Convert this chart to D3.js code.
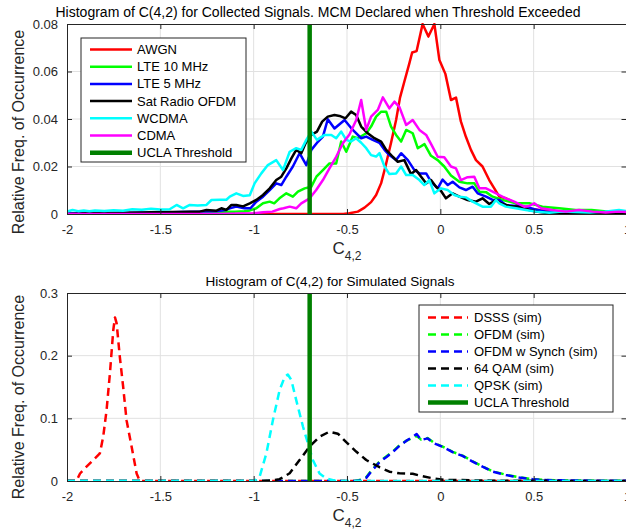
<!DOCTYPE html>
<html>
<head>
<meta charset="utf-8">
<script src="https://cdn.jsdelivr.net/npm/d3@7/dist/d3.min.js"></script>
<style>
  body { margin: 0; background: #fff; }
  svg { display: block; font-family: "Liberation Sans", Arial, Helvetica, sans-serif; }
</style>
</head>
<body>
<svg id="chart" width="626" height="531"></svg>
<script>
// ---- Collected signals: [C(4,2) bin, relative frequency] ----
const awgn = [[-2,0],[-0.52,0],[-0.487,0.0003],[-0.442,0.001],[-0.406,0.0027],[-0.371,0.005],[-0.344,0.008],[-0.317,0.013],[-0.294,0.020],[-0.264,0.030],[-0.237,0.0396],[-0.216,0.049],[-0.193,0.0557],[-0.166,0.0634],[-0.151,0.068],[-0.127,0.0686],[-0.095,0.080],[-0.064,0.0747],[-0.032,0.080],[-0.005,0.0648],[0.027,0.059],[0.057,0.048],[0.084,0.049],[0.11,0.039],[0.137,0.0325],[0.164,0.027],[0.191,0.0227],[0.226,0.020],[0.262,0.0143],[0.316,0.0073],[0.351,0.0066],[0.405,0.0045],[0.458,0.0024],[0.529,0.0017],[0.619,0.001],[0.797,0.0003],[1,0]];

const lte10 = [[-2,0],[-1.5,0.0003],[-1.3,0.0005],[-1.2,0.001],[-1.1,0.001],[-1.05,0.0012],[-1.02,0.0015],[-0.986,0.0024],[-0.95,0.0045],[-0.914,0.0052],[-0.89,0.0045],[-0.862,0.0066],[-0.825,0.0087],[-0.79,0.0073],[-0.763,0.0094],[-0.727,0.0108],[-0.691,0.0115],[-0.664,0.0157],[-0.629,0.0185],[-0.594,0.0213],[-0.558,0.0213],[-0.531,0.0305],[-0.504,0.0262],[-0.469,0.0326],[-0.442,0.0319],[-0.397,0.034],[-0.371,0.0368],[-0.344,0.041],[-0.317,0.0431],[-0.29,0.0431],[-0.264,0.0368],[-0.237,0.0333],[-0.21,0.0305],[-0.183,0.0354],[-0.148,0.034],[-0.121,0.0277],[-0.085,0.0294],[-0.05,0.0245],[-0.014,0.0227],[0.021,0.020],[0.057,0.0162],[0.102,0.0136],[0.146,0.0129],[0.182,0.0129],[0.209,0.0094],[0.245,0.0092],[0.28,0.0073],[0.334,0.0059],[0.405,0.0045],[0.476,0.0045],[0.547,0.0031],[0.636,0.0024],[0.725,0.0017],[0.81,0.0017],[0.904,0.001],[1,0.001]];

const lte5 = [[-2,0.0002],[-1.8,0.0003],[-1.6,0.0005],[-1.5,0.0005],[-1.4,0.0008],[-1.3,0.001],[-1.2,0.0012],[-1.15,0.0017],[-1.128,0.0024],[-1.093,0.0031],[-1.05,0.0024],[-1.017,0.0024],[-0.986,0.0052],[-0.95,0.0073],[-0.914,0.0101],[-0.879,0.0129],[-0.852,0.0122],[-0.825,0.0157],[-0.79,0.020],[-0.754,0.0256],[-0.718,0.0206],[-0.691,0.027],[-0.656,0.0304],[-0.629,0.0326],[-0.603,0.0399],[-0.567,0.036],[-0.513,0.0396],[-0.469,0.0354],[-0.424,0.0319],[-0.397,0.0326],[-0.362,0.0312],[-0.326,0.030],[-0.299,0.027],[-0.273,0.0248],[-0.237,0.0227],[-0.21,0.0256],[-0.174,0.0227],[-0.139,0.0185],[-0.112,0.0171],[-0.076,0.0171],[-0.05,0.0136],[-0.014,0.0108],[0.012,0.0145],[0.04,0.0122],[0.066,0.0136],[0.102,0.0112],[0.137,0.0101],[0.173,0.0115],[0.2,0.0087],[0.245,0.0073],[0.28,0.0059],[0.316,0.0059],[0.351,0.0038],[0.405,0.0034],[0.458,0.0031],[0.503,0.002],[0.565,0.001],[0.67,0.001],[0.8,0.0005],[0.957,0.0003],[1,0.0003]];

const satRadio = [[-2,0],[-1.9,0.0003],[-1.8,0.0004],[-1.7,0.0005],[-1.6,0.0006],[-1.5,0.0008],[-1.4,0.0008],[-1.34,0.001],[-1.289,0.001],[-1.253,0.0017],[-1.199,0.0014],[-1.173,0.0024],[-1.146,0.0017],[-1.119,0.0038],[-1.093,0.0038],[-1.057,0.0032],[-1.021,0.0045],[-0.986,0.0059],[-0.95,0.008],[-0.914,0.0108],[-0.879,0.0143],[-0.852,0.0157],[-0.825,0.0192],[-0.798,0.0234],[-0.772,0.027],[-0.745,0.0256],[-0.722,0.0298],[-0.691,0.0333],[-0.661,0.0347],[-0.633,0.0389],[-0.603,0.041],[-0.567,0.0417],[-0.54,0.0413],[-0.508,0.0403],[-0.478,0.0431],[-0.451,0.0417],[-0.424,0.0368],[-0.389,0.034],[-0.353,0.0319],[-0.317,0.0305],[-0.29,0.027],[-0.255,0.0241],[-0.228,0.022],[-0.193,0.0227],[-0.157,0.0168],[-0.13,0.0185],[-0.103,0.0157],[-0.076,0.0129],[-0.05,0.0143],[-0.023,0.0115],[0.004,0.0097],[0.03,0.0066],[0.066,0.0087],[0.102,0.0073],[0.146,0.0059],[0.191,0.0052],[0.226,0.0066],[0.262,0.0042],[0.298,0.0059],[0.324,0.0045],[0.369,0.0034],[0.422,0.0031],[0.476,0.0017],[0.512,0.001],[0.583,0.0003],[0.65,0.0006],[0.75,0.0004],[0.85,0.0003],[1,0.0002]];

const wcdma = [[-2,0.001],[-1.97,0.0017],[-1.94,0.0012],[-1.91,0.0015],[-1.88,0.0012],[-1.85,0.0015],[-1.8,0.0013],[-1.75,0.0016],[-1.7,0.0014],[-1.65,0.002],[-1.6,0.0018],[-1.55,0.0022],[-1.5,0.0019],[-1.45,0.002],[-1.413,0.0038],[-1.378,0.0024],[-1.342,0.0038],[-1.3,0.0036],[-1.253,0.0038],[-1.226,0.0059],[-1.18,0.006],[-1.146,0.006],[-1.128,0.0073],[-1.093,0.0087],[-1.057,0.0076],[-1.021,0.0079],[-0.995,0.0129],[-0.959,0.0171],[-0.924,0.0206],[-0.879,0.0227],[-0.843,0.0185],[-0.807,0.0262],[-0.772,0.0277],[-0.745,0.027],[-0.718,0.0312],[-0.691,0.0347],[-0.661,0.0312],[-0.62,0.0333],[-0.584,0.0333],[-0.558,0.0319],[-0.531,0.0347],[-0.504,0.0312],[-0.478,0.0305],[-0.451,0.0319],[-0.424,0.030],[-0.397,0.0277],[-0.371,0.0248],[-0.344,0.0242],[-0.326,0.0256],[-0.299,0.020],[-0.273,0.0168],[-0.237,0.0171],[-0.21,0.020],[-0.183,0.0164],[-0.148,0.0164],[-0.112,0.0143],[-0.086,0.0122],[-0.059,0.0143],[-0.032,0.0087],[0.004,0.0108],[0.039,0.0101],[0.075,0.008],[0.102,0.0073],[0.137,0.007],[0.173,0.0052],[0.226,0.0031],[0.271,0.0031],[0.298,0.0059],[0.316,0.0045],[0.351,0.0031],[0.405,0.0024],[0.458,0.0017],[0.512,0.001],[0.583,0.0005],[0.65,0.001],[0.72,0.0008],[0.8,0.0006],[0.88,0.001],[0.957,0.0017],[1,0.0012]];

const cdma = [[-2,0],[-1.2,0],[-1.0,0.0003],[-0.95,0.0007],[-0.9,0.001],[-0.86,0.0021],[-0.84,0.0024],[-0.807,0.0031],[-0.772,0.0024],[-0.745,0.0045],[-0.7,0.0066],[-0.665,0.0101],[-0.629,0.0143],[-0.594,0.0192],[-0.558,0.0241],[-0.522,0.0298],[-0.487,0.0335],[-0.451,0.0395],[-0.424,0.048],[-0.397,0.0354],[-0.371,0.041],[-0.335,0.0438],[-0.308,0.0491],[-0.273,0.0445],[-0.246,0.0473],[-0.219,0.045],[-0.183,0.0375],[-0.148,0.0396],[-0.112,0.0354],[-0.076,0.0333],[-0.05,0.0295],[-0.014,0.0241],[0.021,0.0239],[0.057,0.020],[0.084,0.0192],[0.11,0.0143],[0.146,0.0155],[0.182,0.0157],[0.209,0.0108],[0.245,0.0108],[0.28,0.0094],[0.316,0.008],[0.351,0.0066],[0.396,0.0052],[0.449,0.0031],[0.476,0.0034],[0.503,0.0045],[0.54,0.0024],[0.6,0.0017],[0.672,0.001],[0.743,0.0017],[0.815,0.001],[0.886,0.0006],[0.957,0.001],[1,0.0008]];

// ---- Simulated signals ----
const dsss = [[-2,0],[-1.95,0],[-1.93,0.012],[-1.913,0.0175],[-1.868,0.031],[-1.841,0.039],[-1.824,0.044],[-1.806,0.0707],[-1.788,0.113],[-1.77,0.172],[-1.752,0.241],[-1.743,0.261],[-1.734,0.2515],[-1.717,0.198],[-1.699,0.150],[-1.681,0.097],[-1.654,0.055],[-1.627,0.012],[-1.61,0],[1,0]];

const ofdm = [[-2,0],[-0.46,0],[-0.433,0.0015],[-0.397,0.006],[-0.371,0.016],[-0.326,0.031],[-0.29,0.039],[-0.255,0.047],[-0.219,0.057],[-0.183,0.064],[-0.148,0.069],[-0.127,0.072],[-0.103,0.066],[-0.068,0.0685],[-0.032,0.0605],[0.012,0.055],[0.066,0.0465],[0.119,0.0405],[0.173,0.0315],[0.226,0.023],[0.28,0.0155],[0.351,0.01],[0.422,0.006],[0.494,0.003],[0.55,0.0018],[0.65,0.001],[0.8,0.0006],[1,0.0004]];

const ofdmSynch = [[-2,0],[-0.46,0],[-0.433,0.001],[-0.397,0.005],[-0.371,0.0149],[-0.326,0.030],[-0.29,0.038],[-0.255,0.046],[-0.219,0.056],[-0.183,0.064],[-0.148,0.0707],[-0.127,0.075],[-0.103,0.0654],[-0.068,0.068],[-0.032,0.060],[0.012,0.0547],[0.066,0.046],[0.119,0.040],[0.173,0.031],[0.226,0.0228],[0.28,0.0149],[0.351,0.0096],[0.422,0.0055],[0.494,0.003],[0.55,0.0015],[0.65,0.001],[0.8,0.0005],[1,0.0003]];

const qam64 = [[-2,0],[-0.95,0],[-0.897,0.001],[-0.861,0.003],[-0.807,0.0123],[-0.754,0.0335],[-0.701,0.0547],[-0.647,0.0707],[-0.594,0.0787],[-0.549,0.0755],[-0.504,0.062],[-0.451,0.047],[-0.397,0.0335],[-0.326,0.022],[-0.273,0.0149],[-0.219,0.0123],[-0.148,0.0115],[-0.095,0.0075],[-0.041,0.0043],[0.03,0.0016],[0.1,0.0015],[0.2,0.0008],[0.4,0.0003],[1,0]];

const qpsk = [[-2,0],[-1.0,0],[-0.986,0.002],[-0.968,0.007],[-0.932,0.044],[-0.897,0.097],[-0.861,0.145],[-0.834,0.166],[-0.817,0.17],[-0.798,0.161],[-0.772,0.129],[-0.736,0.087],[-0.683,0.0335],[-0.647,0.012],[-0.611,0.004],[-0.558,0],[1,0]];

// ---- shared settings ----
const uclaThreshold = -0.7;
const xDomain = [-2, 1];
const xTicks = [-2, -1.5, -1, -0.5, 0, 0.5, 1];
const yTicksTop = [0, 0.02, 0.04, 0.06, 0.08];
const yTicksBottom = [0, 0.1, 0.2, 0.3];

const topTitle = "Histogram of C(4,2) for Collected Signals. MCM Declared when Threshold Exceeded";
const bottomTitle = "Histogram of C(4,2) for Simulated Signals";
const yLabel = "Relative Freq. of Occurrence";

const topSeries = [
  { name: "AWGN", data: awgn, color: "#ff0000" },
  { name: "LTE 10 MHz", data: lte10, color: "#00ff00" },
  { name: "LTE 5 MHz", data: lte5, color: "#0000ff" },
  { name: "Sat Radio OFDM", data: satRadio, color: "#000000" },
  { name: "WCDMA", data: wcdma, color: "#00ffff" },
  { name: "CDMA", data: cdma, color: "#ff00ff" }
];
const bottomSeries = [
  { name: "DSSS (sim)", data: dsss, color: "#ff0000" },
  { name: "OFDM (sim)", data: ofdm, color: "#00ff00" },
  { name: "OFDM w Synch (sim)", data: ofdmSynch, color: "#0000ff" },
  { name: "64 QAM (sim)", data: qam64, color: "#000000" },
  { name: "QPSK (sim)", data: qpsk, color: "#00ffff" }
];

const axisColor = "#262626";
const gridColor = "#e1e1e1";
const thresholdColor = "#008000";
const svg = d3.select("#chart");

function drawPanel(cfg) {
  const x = d3.scaleLinear().domain(xDomain).range([67, 627]);
  const y = d3.scaleLinear().domain(cfg.yDomain).range([cfg.bottom, cfg.top]);
  const g = svg.append("g");

  const clipId = "clip-" + cfg.id;
  svg.append("clipPath").attr("id", clipId)
    .append("rect").attr("x", 67).attr("y", cfg.top - 1)
    .attr("width", 560).attr("height", cfg.bottom - cfg.top + 2);

  // grid
  g.append("g").selectAll("line").data(xTicks.slice(1, -1)).join("line")
    .attr("x1", d => x(d)).attr("x2", d => x(d))
    .attr("y1", cfg.top).attr("y2", cfg.bottom)
    .attr("stroke", gridColor).attr("stroke-width", 1);
  g.append("g").selectAll("line").data(cfg.yTicks.slice(1, -1)).join("line")
    .attr("x1", 67).attr("x2", 627)
    .attr("y1", d => y(d)).attr("y2", d => y(d))
    .attr("stroke", gridColor).attr("stroke-width", 1);

  // series
  const line = d3.line().x(d => x(d[0])).y(d => y(d[1]));
  const plot = g.append("g").attr("clip-path", `url(#${clipId})`);
  cfg.series.forEach(s => {
    plot.append("path").datum(s.data)
      .attr("d", line)
      .attr("fill", "none")
      .attr("stroke", s.color)
      .attr("stroke-width", 2.5)
      .attr("stroke-linejoin", "round")
      .attr("stroke-dasharray", cfg.dash || null);
  });
  // threshold
  plot.append("line")
    .attr("x1", x(uclaThreshold)).attr("x2", x(uclaThreshold))
    .attr("y1", y(cfg.yDomain[0])).attr("y2", y(cfg.yDomain[1]))
    .attr("stroke", thresholdColor).attr("stroke-width", 4.5);

  // axes (ticks pointing inward, on all four sides)
  const styleAxis = sel => {
    sel.select(".domain").attr("stroke", axisColor).attr("stroke-width", 1);
    sel.selectAll(".tick line").attr("stroke", axisColor);
    sel.selectAll("text").attr("fill", axisColor).style("font-size", "13px")
      .style("font-family", '"Liberation Sans", Arial, sans-serif');
  };
  const fmt = d => String(d);
  g.append("g").attr("transform", `translate(0,${cfg.bottom})`)
    .call(d3.axisBottom(x).tickValues(xTicks).tickFormat(fmt).tickSize(-5).tickSizeOuter(0).tickPadding(11))
    .call(styleAxis);
  g.append("g").attr("transform", `translate(0,${cfg.top})`)
    .call(d3.axisTop(x).tickValues(xTicks).tickFormat("").tickSize(-5).tickSizeOuter(0))
    .call(styleAxis);
  g.append("g").attr("transform", "translate(67,0)")
    .call(d3.axisLeft(y).tickValues(cfg.yTicks).tickFormat(fmt).tickSize(-5).tickSizeOuter(0).tickPadding(9))
    .call(styleAxis);
  g.append("g").attr("transform", "translate(626.5,0)")
    .call(d3.axisRight(y).tickValues(cfg.yTicks).tickFormat("").tickSize(-5).tickSizeOuter(0))
    .call(styleAxis);

  // title
  g.append("text").attr("x", cfg.titleX).attr("y", cfg.titleY)
    .attr("text-anchor", "middle").attr("fill", "#000")
    .style("font-size", cfg.titleSize + "px").text(cfg.title);

  // y label
  g.append("text")
    .attr("transform", `translate(24,${cfg.yLabelMid}) rotate(-90)`)
    .attr("text-anchor", "middle").attr("fill", axisColor)
    .style("font-size", "16px").text(yLabel);

  // x label C_{4,2}
  const xl = g.append("text").attr("x", 347).attr("y", cfg.xLabelY)
    .attr("text-anchor", "middle").attr("fill", axisColor).style("font-size", "17px");
  xl.append("tspan").text("C");
  xl.append("tspan").attr("dy", 6).style("font-size", "12px").text("4,2");

  // legend
  const L = cfg.legend;
  const lg = g.append("g");
  lg.append("rect").attr("x", L.x).attr("y", L.y).attr("width", L.w).attr("height", L.h)
    .attr("fill", "#fff").attr("stroke", axisColor).attr("stroke-width", 1);
  const entries = cfg.series.map(s => ({ name: s.name, color: s.color, dash: cfg.dash, w: 2.5 }))
    .concat([{ name: "UCLA Threshold", color: thresholdColor, dash: null, w: 4.5 }]);
  entries.forEach((e, i) => {
    const yy = L.firstY + i * L.step;
    lg.append("line").attr("x1", L.lineX1).attr("x2", L.lineX2)
      .attr("y1", yy).attr("y2", yy)
      .attr("stroke", e.color).attr("stroke-width", e.w)
      .attr("stroke-dasharray", e.dash || null);
    lg.append("text").attr("x", L.textX).attr("y", yy + 4.5)
      .attr("fill", "#000").style("font-size", "13px").text(e.name);
  });
}

drawPanel({
  id: "top", top: 24, bottom: 214, yDomain: [0, 0.08], yTicks: yTicksTop,
  series: topSeries, title: topTitle, titleX: 318, titleY: 16.5, titleSize: 14,
  xLabelY: 254, yLabelMid: 132,
  legend: { x: 81, y: 38, w: 165, h: 124, firstY: 49.5, step: 17.2, lineX1: 90, lineX2: 132, textX: 137 }
});

drawPanel({
  id: "bottom", top: 293, bottom: 481, yDomain: [0, 0.3], yTicks: yTicksBottom,
  series: bottomSeries, dash: "8,5", title: bottomTitle, titleX: 330, titleY: 286, titleSize: 13.5,
  xLabelY: 521, yLabelMid: 397,
  legend: { x: 419, y: 305, w: 194, h: 107, firstY: 317.5, step: 17, lineX1: 428, lineX2: 468, textX: 474 }
});
</script>
</body>
</html>
